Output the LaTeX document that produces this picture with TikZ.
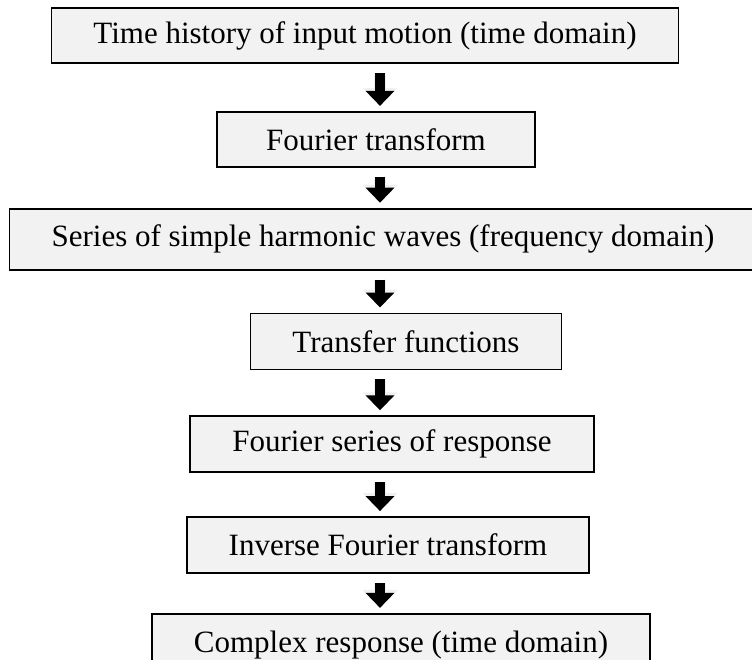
\documentclass[tikz,border=0pt]{standalone}
\usepackage{fontspec}
\setmainfont{Liberation Serif}
\usetikzlibrary{arrows.meta,positioning}
\definecolor{boxgray}{RGB}{242,242,242}

\begin{document}
\begin{tikzpicture}[x=1pt,y=1pt,font=\fontsize{31}{37}\selectfont,node distance=43pt,
      blk/.style={draw,line width=1.8pt,fill=boxgray,minimum height=56pt,inner ysep=0pt,inner xsep=42pt},
      flow/.style={line width=9.5pt,-{Triangle[width=28pt,length=15pt]},shorten <=9pt,shorten >=5pt,
        preaction={draw=black!6,line width=12pt,-{Triangle[width=34pt,length=18pt]}}}]
  \useasboundingbox (0,0) rectangle (752,-659);
  \node[blk,minimum height=55pt] (hist) at (365,-35.5) {Time history of input motion (time domain)};
  \node[blk,minimum width=318pt,minimum height=55pt,below=of hist,xshift=11pt,yshift=-4pt] (ft) {Fourier transform};
  \node[blk,minimum width=744pt,minimum height=61pt,below=of ft,xshift=7pt,yshift=3pt] (waves) {Series of simple harmonic waves (frequency domain)};
  \node[blk,below=of waves,xshift=23pt,yshift=1pt] (tf) {Transfer functions};
  \node[blk,below=of tf,xshift=-14pt,yshift=-2pt] (fsr) {Fourier series of response};
  \node[blk,below=of fsr,xshift=-4pt] (ift) {Inverse Fourier transform};
  \node[blk,minimum height=62pt,below=of ift,xshift=13pt,yshift=4pt] (resp) {Complex response (time domain)};
  % arrows share one column
  \coordinate (axis) at (380,0);
  \foreach \a/\b in {hist/ft,ft/waves,waves/tf,tf/fsr,fsr/ift,ift/resp}
    \draw[flow] (axis |- \a.south) -- (axis |- \b.north);
\end{tikzpicture}
\end{document}
